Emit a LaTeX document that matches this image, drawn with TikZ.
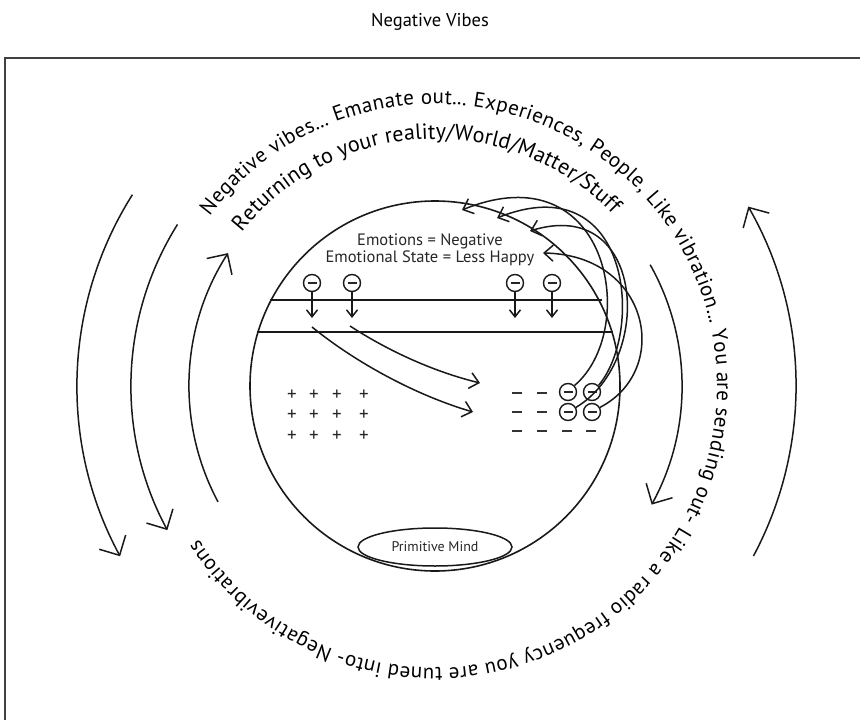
\documentclass[tikz,border=0pt]{standalone}
\usepackage{fontspec}
\setmainfont{PT Sans}
\usetikzlibrary{arrows.meta,decorations.text,shapes.geometric}
\newcommand\arcfont{\fontsize{21}{21}\selectfont}
\newcommand\arcfontin{\fontsize{22}{22}\selectfont}
\begin{document}
\begin{tikzpicture}[x=1pt,y=-1pt,
  ln/.style={line width=1.5pt, draw=black!90},
  bigtip/.style={-{Straight Barb[length=15pt,width=30pt]}},
  midtip/.style={-{Straight Barb[length=9pt,width=16pt]}},
  smalltip/.style={-{Straight Barb[length=7pt,width=11pt]}},
  mcirc/.style={circle, draw=black!90, line width=1.4pt, minimum size=17pt, inner sep=0pt,
    path picture={\draw[line width=2.2pt, black!85] ([xshift=-4.5pt]path picture bounding box.center) -- ([xshift=4.5pt]path picture bounding box.center);}},
  plus/.style={font=\fontsize{19}{19}\selectfont, inner sep=0pt, text=black!85},
  minusbar/.style={line width=2.4pt, draw=black!80},
  frame/.style={line width=2pt, draw=black!75}
]
\useasboundingbox (0,0) rectangle (860,720);
\clip (0,0) rectangle (860,720);

% title and frame
\node[font=\fontsize{18.5}{18.5}\selectfont] (title) at (430,22) {Negative Vibes};
\draw[frame] (5,760) -- (5,58) -- (900,58);

\coordinate (C) at (435,386);

% main circle and band
\node[circle, draw=black!90, line width=1.6pt, minimum size=370pt, inner sep=0pt] (mind) at (C) {};
\draw[ln] (270,300) -- (602,300);
\draw[ln] (257,332) -- (613,332);

% primitive mind
\node[ellipse, draw=black!90, line width=1.5pt, minimum width=154pt, minimum height=38pt, inner sep=0pt,
  font=\fontsize{14}{14}\selectfont, text=black!85] (pm) at (435,547) {Primitive Mind};

% emotions text
\node[align=center, font=\fontsize{16.5}{17}\selectfont, text=black!85] (emo) at (430,250)
  {Emotions = Negative\\Emotional State = Less Happy};

% top minus circles with arrows
\foreach \n/\x in {1/312,2/352,3/515,4/552}{
  \node[mcirc] (t\n) at (\x,283) {};
  \coordinate (d\n) at (\x,318);
  \draw[ln, smalltip] (t\n) -- (d\n);
}

% long arrows
\coordinate (s1) at (312,327);
\coordinate (e1) at (473,412);
\coordinate (s2) at (350,326);
\coordinate (e2) at (480,383);
\draw[ln, midtip] (s1) .. controls (355,362) and (415,395) .. (e1);
\draw[ln, midtip] (s2) .. controls (390,352) and (435,372) .. (e2);

% plus signs
\foreach \x [count=\i] in {292,314,337,364}{
  \foreach \y [count=\j] in {395,415,436}{
    \node[plus] (p\i\j) at (\x,\y) {+};
  }
}

% minus signs
\foreach \x/\y in {517/393,542/393,517/412,542/412,517/431,542/431,567/431,591/431}{
  \draw[minusbar] (\x-5,\y) -- (\x+5,\y);
}
\node[mcirc] (c1) at (568,392) {};
\node[mcirc] (c2) at (592,392) {};
\node[mcirc] (c3) at (568,412) {};
\node[mcirc] (c4) at (592,412) {};

% loops back to the top
\coordinate (a1) at (462,210);
\coordinate (a2) at (497,218);
\coordinate (a3) at (530,231);
\coordinate (a4) at (543,253);
\draw[ln, midtip] (c1.45) .. controls (640,330) and (610,150) .. (a1);
\draw[ln, midtip] (c2.45) .. controls (645,330) and (630,165) .. (a2);
\draw[ln, midtip] (c3.30) .. controls (655,360) and (645,195) .. (a3);
\draw[ln, midtip] (c4.30) .. controls (672,370) and (650,255) .. (a4);

% arcs around
\draw[ln, bigtip] ([shift={(212.3:358)}]C) arc[start angle=212.3, end angle=151.6, radius=358];
\draw[ln, bigtip] ([shift={(212.1:304)}]C) arc[start angle=212.1, end angle=151.7, radius=304];
\draw[ln, bigtip] ([shift={(151.9:246)}]C) arc[start angle=151.9, end angle=212.7, radius=246];
\draw[ln, bigtip] ([shift={(-29.4:247)}]C) arc[start angle=-29.4, end angle=28.7, radius=247];
\draw[ln, bigtip] ([shift={(28.1:361)}]C) arc[start angle=28.1, end angle=-29.8, radius=361];

% curved texts
\path[decorate, decoration={text along path, text align=fit to path,
  text={|\arcfont|Negative vibes... Emanate out... Experiences, People, Like vibration... You are sending out- Like a radio frequency you are tuned into- Negativevibrations}}]
  ([shift={(-143:282)}]C) arc[start angle=-143, end angle=147, radius=282];
\path[decorate, decoration={text along path, text align=fit to path,
  text={|\arcfontin|Returning to your reality/World/Matter/Stuff}}]
  ([shift={(-141.5:247)}]C) arc[start angle=-141.5, end angle=-44, radius=247];
\end{tikzpicture}
\end{document}
